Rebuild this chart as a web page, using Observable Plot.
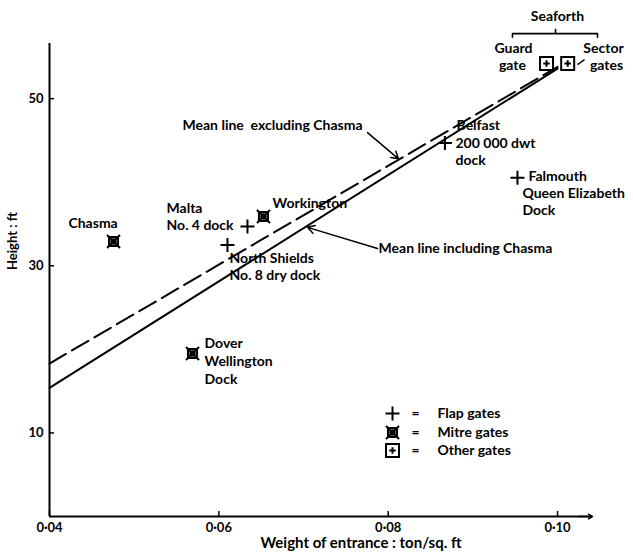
<!DOCTYPE html>
<html><head><meta charset="utf-8">
<script src="https://cdn.jsdelivr.net/npm/d3@7"></script>
<script src="https://cdn.jsdelivr.net/npm/@observablehq/plot@0.6"></script>
<style>body{margin:0;background:#fff}</style>
</head><body><div id="chart"></div>
<script>
// ---- data ----
const gateTypes = ["Flap gates", "Mitre gates", "Other gates"];
const docks = [
  {name: "Chasma", type: "Mitre gates", w: 0.04756, h: 32.9},
  {name: "Malta No. 4 dock", type: "Flap gates", w: 0.06338, h: 34.7},
  {name: "Workington", type: "Mitre gates", w: 0.06527, h: 35.9},
  {name: "North Shields No. 8 dry dock", type: "Flap gates", w: 0.06102, h: 32.5},
  {name: "Dover Wellington Dock", type: "Mitre gates", w: 0.05689, h: 19.5},
  {name: "Belfast 200 000 dwt dock", type: "Flap gates", w: 0.0867, h: 44.7},
  {name: "Falmouth Queen Elizabeth Dock", type: "Flap gates", w: 0.09527, h: 40.55},
  {name: "Seaforth Guard gate", type: "Other gates", w: 0.0987, h: 54.2},
  {name: "Seaforth Sector gates", type: "Other gates", w: 0.1012, h: 54.2}
];
const meanIncluding = [{w: 0.04, h: 15.4}, {w: 0.100, h: 53.6}];
const meanExcluding = [{w: 0.04, h: 18.3}, {w: 0.100, h: 53.8}];
const xTicks = [0.04, 0.06, 0.08, 0.10];
const yTicks = [10, 30, 50];
const labels = [
  {t: "Chasma", w: 0.04224, h: 35.05, a: "start"},
  {t: "Malta", w: 0.05382, h: 36.84, a: "start"},
  {t: "No. 4 dock", w: 0.05382, h: 34.81, a: "start"},
  {t: "Workington", w: 0.06634, h: 37.44, a: "start"},
  {t: "North Shields", w: 0.06126, h: 30.86, a: "start"},
  {t: "No. 8 dry dock", w: 0.06126, h: 28.83, a: "start"},
  {t: "Dover", w: 0.05831, h: 20.69, a: "start"},
  {t: "Wellington", w: 0.05831, h: 18.54, a: "start"},
  {t: "Dock", w: 0.05831, h: 16.39, a: "start"},
  {t: "Belfast", w: 0.08807, h: 46.77, a: "start"},
  {t: "200 000 dwt", w: 0.08795, h: 44.62, a: "start"},
  {t: "dock", w: 0.08795, h: 42.58, a: "start"},
  {t: "Falmouth", w: 0.09657, h: 40.67, a: "start"},
  {t: "Queen Elizabeth", w: 0.09586, h: 38.64, a: "start"},
  {t: "Dock", w: 0.09586, h: 36.6, a: "start"},
  {t: "Guard", w: 0.0948, h: 55.98, a: "middle"},
  {t: "gate", w: 0.09468, h: 53.95, a: "middle"},
  {t: "Sector", w: 0.10543, h: 55.98, a: "middle"},
  {t: "gates", w: 0.10578, h: 53.95, a: "middle"},
  {t: "Seaforth", w: 0.1000, h: 59.8, a: "middle"},
  {t: "Mean line  excluding Chasma", w: 0.05571, h: 46.77, a: "start"},
  {t: "Mean line including Chasma", w: 0.07886, h: 32.06, a: "start"}
];
const pointers = [
  {w1: 0.07756, h1: 45.93, w2: 0.08122, h2: 42.8},
  {w1: 0.07874, h1: 32.06, w2: 0.07047, h2: 34.6}
];
const bracket = [
  {w: 0.09468, h: 57.35}, {w: 0.09468, h: 57.78}, {w: 0.10472, h: 57.78}, {w: 0.10472, h: 57.35}
];
const bracketTip = [{w: 0.09976, h1: 57.78, h2: 58.3}];
const sectorLeader = [{w1: 0.10236, h1: 54.07, w2: 0.10319, h2: 54.67}];
const legendRows = [
  {type: "Flap gates", h: 12.32},
  {type: "Mitre gates", h: 10.05},
  {type: "Other gates", h: 7.89}
];
const legendX = {symbol: 0.08051, eq: 0.08323, text: 0.08582};

// ---- symbols ----
const flapSym = {draw(c, size) { const r = Math.sqrt(size / Math.PI);
  c.moveTo(-r, 0); c.lineTo(r, 0); c.moveTo(0, -r); c.lineTo(0, r); }};
const mitreSym = {draw(c, size) { const r = Math.sqrt(size / Math.PI); const s = r * 0.7;
  c.moveTo(-s, -s); c.lineTo(s, -s); c.lineTo(s, s); c.lineTo(-s, s); c.closePath();
  c.moveTo(-r, -r); c.lineTo(r, r); c.moveTo(r, -r); c.lineTo(-r, r); }};
const otherSym = {draw(c, size) { const r = Math.sqrt(size / Math.PI); const p = r * 0.5;
  c.moveTo(-r, -r); c.lineTo(r, -r); c.lineTo(r, r); c.lineTo(-r, r); c.closePath();
  c.moveTo(-p, 0); c.lineTo(p, 0); c.moveTo(0, -p); c.lineTo(0, p); }};

const W = 633, H = 560, mL = 49, mR = 41, mT = 43, mB = 44;
const pw = W - mL - mR, ph = H - mT - mB;
const font = "Lato, 'Open Sans', sans-serif";

function symbolMarks(data, x, y) {
  const f = data.filter(d => d.type === "Flap gates");
  const m = data.filter(d => d.type === "Mitre gates");
  const o = data.filter(d => d.type === "Other gates");
  return [
    Plot.dot(f, {x, y, symbol: flapSym, r: 7, fill: "none", stroke: "black", strokeWidth: 2}),
    Plot.dot(m, {x, y, symbol: mitreSym, r: 6.5, fill: "none", stroke: "black", strokeWidth: 2}),
    Plot.dot(m, {x, y, r: 3.2, fill: "black", stroke: "none"}),
    Plot.dot(o, {x, y, symbol: otherSym, r: 6.5, fill: "none", stroke: "black", strokeWidth: 2})
  ];
}

const chart = Plot.plot({
  width: W, height: H,
  marginLeft: mL, marginRight: mR, marginTop: mT, marginBottom: mB,
  x: {domain: [0.04, 0.10413], axis: null},
  y: {domain: [0, 56.6], axis: null},
  style: {fontFamily: font, fontSize: "14px", color: "black", background: "white", overflow: "visible"},
  marks: [
    // axes
    Plot.ruleX([0.04], {strokeWidth: 2}),
    Plot.ruleY([0], {strokeWidth: 2}),
    Plot.arrow([0], {x1: 0.1025, x2: 0.10413, y1: 0, y2: 0, headLength: 5, strokeWidth: 1.5}),
    Plot.ruleX(xTicks, {insetTop: ph - 5, strokeWidth: 1.5}),
    Plot.ruleY(yTicks, {insetRight: pw - 5, strokeWidth: 1.5}),
    Plot.text(xTicks, {x: d => d, frameAnchor: "bottom", lineAnchor: "top", dy: 6,
      text: d => d.toFixed(2).replace(".", "·"), fontSize: 13, fontWeight: "bold"}),
    Plot.text(yTicks, {y: d => d, frameAnchor: "left", textAnchor: "end", dx: -6,
      text: d => String(d), fontSize: 13, fontWeight: "bold"}),
    Plot.text(["Weight of entrance : ton/sq. ft"], {frameAnchor: "bottom", dx: 40, dy: 27, lineAnchor: "middle", fontSize: 15, fontWeight: "bold"}),
    Plot.text(["Height : ft"], {frameAnchor: "left", dx: -37, dy: -10, rotate: -90, fontSize: 13, fontWeight: "bold"}),
    // mean lines
    Plot.line(meanIncluding, {x: "w", y: "h", strokeWidth: 2}),
    Plot.line(meanExcluding, {x: "w", y: "h", strokeWidth: 2, strokeDasharray: "19,7"}),
    // pointers
    Plot.arrow(pointers, {x1: "w1", y1: "h1", x2: "w2", y2: "h2", strokeWidth: 1.5, headLength: 8}),
    Plot.line(bracket, {x: "w", y: "h", strokeWidth: 1.6}),
    Plot.ruleX(bracketTip, {x: "w", y1: "h1", y2: "h2", strokeWidth: 1.6}),
    Plot.link(sectorLeader, {x1: "w1", y1: "h1", x2: "w2", y2: "h2", strokeWidth: 1.3}),
    // points
    ...symbolMarks(docks, "w", "h"),
    // labels
    Plot.text(labels, {x: "w", y: "h", text: "t", textAnchor: "start", fontWeight: "bold",
      filter: d => d.a === "start"}),
    Plot.text(labels, {x: "w", y: "h", text: "t", textAnchor: "middle", fontWeight: "bold",
      filter: d => d.a === "middle"}),
    // legend
    ...symbolMarks(legendRows.map(d => ({...d, w: legendX.symbol})), "w", "h"),
    Plot.text(legendRows, {x: () => legendX.eq, y: "h", text: () => "=", fontWeight: "bold"}),
    Plot.text(legendRows, {x: () => legendX.text, y: "h", text: "type", textAnchor: "start", fontWeight: "bold"})
  ]
});
document.getElementById("chart").appendChild(chart);
</script>
</body></html>
